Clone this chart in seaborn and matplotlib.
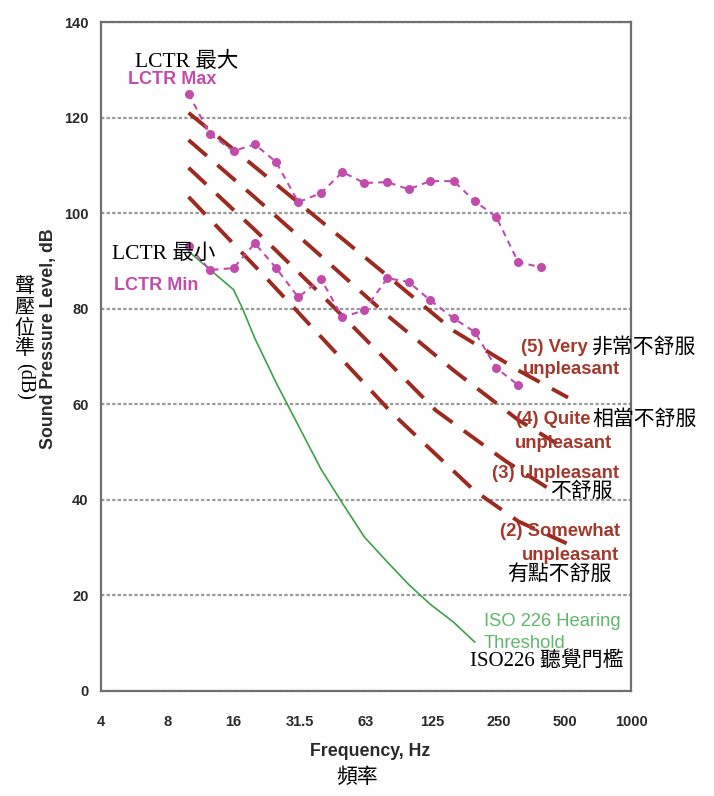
import numpy as np
import pandas as pd
import matplotlib
matplotlib.use("Agg")
import matplotlib.pyplot as plt
import seaborn as sns
from matplotlib.ticker import FixedLocator, NullFormatter, MultipleLocator

# ---------------- data ----------------
freq_lctr = [10, 12.5, 16, 20, 25, 31.5, 40, 50, 63, 80, 100, 125, 160, 200, 250, 315, 400]
lctr_max = [125.0, 116.5, 113.0, 114.4, 110.7, 102.3, 104.2, 108.6, 106.3, 106.5,
            105.0, 106.7, 106.7, 102.5, 99.2, 89.7, 88.7]
freq_lctr_min = [10, 12.5, 16, 20, 25, 31.5, 40, 50, 63, 80, 100, 125, 160, 200, 250, 315]
lctr_min = [93.1, 88.1, 88.5, 93.7, 88.5, 82.4, 86.2, 78.2, 79.7, 86.4,
            85.6, 81.8, 78.0, 75.1, 67.6, 64.0]

freq_iso = [10, 12.5, 16, 17.6, 20, 25, 31.5, 40, 50, 63, 80, 100, 125, 160, 200]
iso_threshold = [92.0, 88.2, 84.0, 80.0, 73.8, 64.5, 55.6, 46.4, 39.3, 32.2, 27.0, 22.3, 18.2, 14.4, 10.2]

freq_very = [10, 20, 40, 80, 160, 315, 530]
db_very = [121.0, 109.7, 98.3, 86.9, 75.4, 67.1, 61.4]
freq_quite = [10, 20, 40, 80, 160, 315, 470]
db_quite = [115.3, 103.3, 91.0, 78.6, 67.1, 56.7, 51.8]
freq_unpl = [10, 20, 40, 80, 133, 276, 425]
db_unpl = [109.5, 96.5, 83.0, 69.0, 58.7, 48.1, 42.6]
freq_some = [10, 23.1, 83.4, 198, 315, 522]
db_some = [103.4, 85.9, 58.3, 42.0, 35.5, 30.9]

xtick_pos = [4, 8, 16, 32, 64, 128, 256, 512, 1024]
xtick_labels = ["4", "8", "16", "31.5", "63", "125", "250", "500", "1000"]
ytick_vals = [0, 20, 40, 60, 80, 100, 120, 140]

# ---------------- style ----------------
sns.set_style("white")
plt.rcParams["font.family"] = ["Liberation Sans", "Noto Sans CJK TC", "DejaVu Sans"]
SERIF_CJK = ["Liberation Serif", "Noto Sans CJK TC", "DejaVu Sans"]
SANS = ["Liberation Sans", "DejaVu Sans"]

MAGENTA = "#c14cab"
DARKRED = "#9c2a20"
LABELRED = "#a3382c"
GREEN = "#3f9f4a"
GREENTXT = "#5fb76b"
SPINE = "#6f6f6f"

W, H = 714, 796
fig = plt.figure(figsize=(W / 100, H / 100), dpi=100)
ax = fig.add_axes([101 / W, 1 - 691 / H, 530 / W, 669 / H])

# discomfort curves
lw_red = 2.8
for f, d in [(freq_very, db_very), (freq_quite, db_quite),
             (freq_unpl, db_unpl), (freq_some, db_some)]:
    sns.lineplot(x=f, y=d, ax=ax, color=DARKRED, linewidth=lw_red,
                 linestyle=(0, (6.2, 3.6)), sort=False, estimator=None,
                 errorbar=None, zorder=3)

# ISO threshold
sns.lineplot(x=freq_iso, y=iso_threshold, ax=ax, color=GREEN, linewidth=1.2,
             sort=False, estimator=None, errorbar=None, zorder=2)

# LCTR max / min
for f, d in [(freq_lctr, lctr_max), (freq_lctr_min, lctr_min)]:
    sns.lineplot(x=f, y=d, ax=ax, color=MAGENTA, linewidth=1.5,
                 linestyle=(0, (3, 2.5)), marker="o", markersize=6.5,
                 markeredgewidth=0, sort=False, estimator=None,
                 errorbar=None, zorder=4)

ax.set_xscale("log", base=2)
ax.set_xlim(4, 1024)
ax.set_ylim(0, 140)
ax.xaxis.set_major_locator(FixedLocator(xtick_pos))
ax.set_xticklabels(xtick_labels)
ax.xaxis.set_minor_locator(FixedLocator(4 * 2 ** (np.arange(25) / 3)))
ax.xaxis.set_minor_formatter(NullFormatter())
ax.set_yticks(ytick_vals)
ax.yaxis.set_minor_locator(MultipleLocator(5))

ax.grid(axis="y", which="major", linestyle=(0, (1.5, 1.0)), color="#9a9a9a", linewidth=1.6, zorder=0)
ax.grid(axis="x", visible=False)
ax.set_axisbelow(True)

for s in ax.spines.values():
    s.set_color(SPINE)
    s.set_linewidth(1.6)
    s.set_visible(True)

ax.tick_params(axis="both", which="both", direction="in", color=SPINE, width=1.0)
ax.tick_params(axis="both", which="major", length=4)
ax.tick_params(axis="both", which="minor", length=4)
ax.tick_params(axis="x", which="both", top=False, pad=17)
ax.tick_params(axis="y", which="both", right=False, pad=9)
for lab in ax.get_xticklabels() + ax.get_yticklabels():
    lab.set_fontsize(10.5)
    lab.set_fontweight("bold")
    lab.set_color("#2a2a2a")
    lab.set_family(SANS)
ax.set_xlabel("")
ax.set_ylabel("")


def ftext(x, y, s, **kw):
    fig.text(x / W, 1 - y / H, s, **kw)


# annotations
ftext(135, 62, "LCTR 最大", family=SERIF_CJK, fontsize=15.5, color="black", va="center", ha="left")
ftext(128, 79, "LCTR Max", family=SANS, fontsize=13, fontweight="bold", color=MAGENTA, va="center", ha="left")
ftext(112, 254, "LCTR 最小", family=SERIF_CJK, fontsize=15.5, color="black", va="center", ha="left")
ftext(114, 285, "LCTR Min", family=SANS, fontsize=13, fontweight="bold", color=MAGENTA, va="center", ha="left")

red_kw = dict(family=SANS, fontsize=13.3, fontweight="bold", color=LABELRED, va="center", ha="left")
cjk_kw = dict(family=SERIF_CJK, fontsize=15, color="black", va="center", ha="left")
ftext(521, 348, "(5) Very", **red_kw)
ftext(592, 348, "非常不舒服", **cjk_kw)
ftext(523, 370, "unpleasant", **red_kw)
ftext(516, 420, "(4) Quite", **red_kw)
ftext(592, 420, "相當不舒服", **cjk_kw)
ftext(515, 443, "unpleasant", **red_kw)
ftext(492, 474, "(3) Unpleasant", **red_kw)
ftext(550, 492, "不舒服", **cjk_kw)
ftext(500, 532, "(2) Somewhat", **red_kw)
ftext(522, 556, "unpleasant", **red_kw)
ftext(507, 575, "有點不舒服", **cjk_kw)

ftext(484, 622, "ISO 226 Hearing", family=SANS, fontsize=13.2, color=GREENTXT, va="center", ha="left")
ftext(484, 644, "Threshold", family=SANS, fontsize=13.2, color=GREENTXT, va="center", ha="left")
ftext(470, 662, "ISO226 聽覺門檻", family=SERIF_CJK, fontsize=15, color="black", va="center", ha="left")

# axis titles
ftext(370, 752, "Frequency, Hz", family=SANS, fontsize=12.8, fontweight="bold", color="#2a2a2a", va="center", ha="center")
ftext(357, 778, "頻率", family=SERIF_CJK, fontsize=15, color="black", va="center", ha="center")
ftext(49, 339, "Sound Pressure Level, dB", family=SANS, fontsize=12.8, fontweight="bold", color="#2a2a2a",
      va="center", ha="center", rotation=90)
# vertical CJK label: upright characters stacked, latin part rotated clockwise
for i, ch in enumerate("聲壓位準"):
    ftext(24, 288 + i * 20.5, ch, family=SERIF_CJK, fontsize=14.5, color="black", va="center", ha="center")
ftext(24, 381, "(dB)", family=SERIF_CJK, fontsize=14.5, color="black", va="center", ha="center", rotation=-90)

fig.savefig("out.png", dpi=100)
